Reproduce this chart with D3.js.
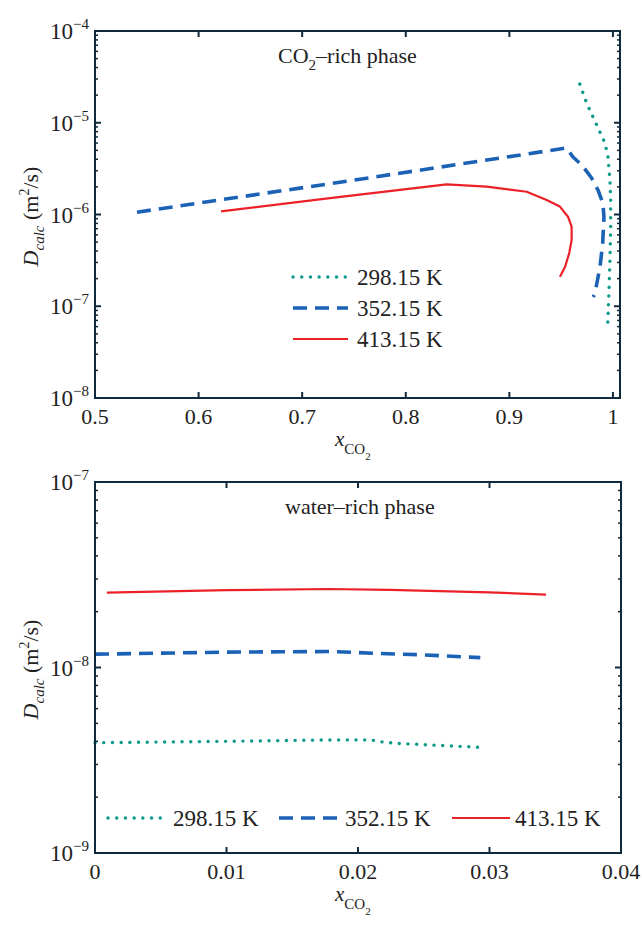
<!DOCTYPE html>
<meta charset="utf-8">
<script src="https://d3js.org/d3.v7.min.js"></script>
<style>
  body { margin: 0; background: #fff; }
  text { font-family: 'Liberation Serif', 'Times New Roman', serif; fill: #222; }
</style>
<body>
<div id="chart"></div>
<script>

// legend labels
var temps = ["298.15 K", "352.15 K", "413.15 K"];

// CO2-rich phase (top panel)
var richX298 = [0.968, 0.9746, 0.9807, 0.9875, 0.9923, 0.9952, 0.9971, 0.9978, 0.9978, 0.9971, 0.9961, 0.9949];
var richD298 = [2.64e-5, 1.64e-5, 1.16e-5, 7.9e-6, 6.0e-6, 4.23e-6, 2.38e-6, 1.44e-6, 7.3e-7, 3.19e-7, 1.39e-7, 6.25e-8];

var richX352 = [0.5405, 0.75, 0.9553, 0.9614, 0.9698, 0.9794, 0.9855, 0.9903, 0.9913, 0.9901, 0.9875, 0.9826, 0.981];
var richD352 = [1.06e-6, 2.37e-6, 5.31e-6, 4.23e-6, 3.47e-6, 2.50e-6, 1.85e-6, 1.33e-6, 9.4e-7, 4.89e-7, 2.68e-7, 1.39e-7, 1.26e-7];

var richX413 = [0.6216, 0.7268, 0.8395, 0.8781, 0.9167, 0.936, 0.9488, 0.9566, 0.9601, 0.9601, 0.9578, 0.9537, 0.9488];
var richD413 = [1.08e-6, 1.51e-6, 2.13e-6, 2.01e-6, 1.77e-6, 1.44e-6, 1.22e-6, 9.46e-7, 7.36e-7, 5.27e-7, 3.80e-7, 2.68e-7, 2.10e-7];

// water-rich phase (bottom panel)
var waterX298 = [0, 0.01, 0.0179, 0.021, 0.0217, 0.0229, 0.0257, 0.0297];
var waterD298 = [3.93e-9, 4.0e-9, 4.07e-9, 4.07e-9, 3.98e-9, 3.90e-9, 3.82e-9, 3.70e-9];

var waterX352 = [0, 0.01, 0.0179, 0.0217, 0.0249, 0.0293];
var waterD352 = [1.18e-8, 1.21e-8, 1.22e-8, 1.19e-8, 1.17e-8, 1.13e-8];

var waterX413 = [0.0009, 0.01, 0.0177, 0.0224, 0.03, 0.0343];
var waterD413 = [2.53e-8, 2.61e-8, 2.65e-8, 2.62e-8, 2.54e-8, 2.47e-8];

var topXTicks = [0.5, 0.6, 0.7, 0.8, 0.9, 1];
var topXLabels = ["0.5", "0.6", "0.7", "0.8", "0.9", "1"];
var botXTicks = [0, 0.01, 0.02, 0.03, 0.04];
var botXLabels = ["0", "0.01", "0.02", "0.03", "0.04"];

var styles = [
  {color: "#0f9a8c", width: 3.4, dash: "0.1 8.6", cap: "round"},
  {color: "#1b62b6", width: 3.6, dash: "14 8", cap: "butt"},
  {color: "#ec2028", width: 2.2, dash: null, cap: "butt"}
];

var axisColor = "#0e2a3c";

var svg = d3.select("#chart").append("svg")
  .attr("width", 642)
  .attr("height", 926);

function zip(xs, ys) {
  return xs.map(function(d, i) { return {x: d, y: ys[i]}; });
}

function drawPanel(p) {
  var x = d3.scaleLinear().domain(p.xDomain).range([p.left, p.right]);
  var y = d3.scaleLog().domain(p.yDomain).range([p.bottom, p.top]);

  var g = svg.append("g");

  // series
  p.series.forEach(function(s, i) {
    var st = styles[i];
    g.append("path")
      .datum(s)
      .attr("d", d3.line().x(function(d) { return x(d.x); }).y(function(d) { return y(d.y); }))
      .attr("fill", "none")
      .attr("stroke", st.color)
      .attr("stroke-width", st.width)
      .attr("stroke-dasharray", st.dash)
      .attr("stroke-linecap", st.cap)
      .attr("stroke-linejoin", "round");
  });

  // frame
  g.append("rect")
    .attr("x", p.left).attr("y", p.top)
    .attr("width", p.right - p.left).attr("height", p.bottom - p.top)
    .attr("fill", "none").attr("stroke", axisColor).attr("stroke-width", 2);

  // x ticks inward, top and bottom
  p.xTicks.forEach(function(t, i) {
    g.append("line").attr("x1", x(t)).attr("x2", x(t)).attr("y1", p.bottom).attr("y2", p.bottom - 6)
      .attr("stroke", axisColor).attr("stroke-width", 2);
    g.append("line").attr("x1", x(t)).attr("x2", x(t)).attr("y1", p.top).attr("y2", p.top + 6)
      .attr("stroke", axisColor).attr("stroke-width", 2);
    g.append("text")
      .attr("x", x(t)).attr("y", p.bottom + 26)
      .attr("text-anchor", "middle")
      .style("font-size", "22px")
      .text(p.xLabels[i]);
  });

  // y ticks (log, with minors), left and right
  y.ticks().forEach(function(t) {
    var e = Math.log10(t);
    var major = Math.abs(e - Math.round(e)) < 1e-6;
    var len = major ? 6 : 3;
    [[p.left, len], [p.right, -len]].forEach(function(a) {
      g.append("line").attr("x1", a[0]).attr("x2", a[0] + a[1]).attr("y1", y(t)).attr("y2", y(t))
        .attr("stroke", axisColor).attr("stroke-width", major ? 2 : 1.5);
    });
    if (major) {
      var tx = g.append("text")
        .attr("x", p.left - 6).attr("y", y(t) + 8)
        .attr("text-anchor", "end")
        .style("font-size", "23px");
      tx.append("tspan").text("10");
      tx.append("tspan").attr("dy", -10).style("font-size", "15px").text("\u2212" + Math.abs(Math.round(e)));
    }
  });

  // panel title
  var ti = g.append("text").attr("x", p.titleX).attr("y", p.top + 32).style("font-size", "22px");
  p.title.forEach(function(part) {
    ti.append("tspan").attr("dy", part.dy || 0).style("font-size", part.size || "22px").text(part.t);
  });

  // legend
  p.legend.forEach(function(l, i) {
    var st = styles[i];
    g.append("line")
      .attr("x1", l.x1).attr("x2", l.x2).attr("y1", l.y).attr("y2", l.y)
      .attr("stroke", st.color).attr("stroke-width", st.width)
      .attr("stroke-dasharray", st.dash).attr("stroke-linecap", st.cap);
    g.append("text").attr("x", l.tx).attr("y", l.y + 8).style("font-size", "23px").text(temps[i]);
  });

  // x label
  var xl = g.append("text").attr("x", 335).attr("y", p.bottom + 48).style("font-size", "21px");
  xl.append("tspan").style("font-style", "italic").text("x");
  xl.append("tspan").attr("dy", 8).style("font-size", "15px").text("CO");
  xl.append("tspan").attr("dy", 6).style("font-size", "11px").text("2");

  // y label
  var yc = (p.top + p.bottom) / 2 + 2;
  var yl = g.append("text")
    .attr("transform", "translate(38," + yc + ") rotate(-90)")
    .attr("text-anchor", "middle")
    .style("font-size", "22px");
  yl.append("tspan").style("font-style", "italic").text("D");
  yl.append("tspan").attr("dy", 6).style("font-style", "italic").style("font-size", "15px").text("calc");
  yl.append("tspan").attr("dy", -6).text(" (m");
  yl.append("tspan").attr("dy", -9).style("font-size", "14px").text("2");
  yl.append("tspan").attr("dy", 9).text("/s)");
}

drawPanel({
  left: 95, right: 620, top: 31, bottom: 398,
  xDomain: [0.5, 1.0068], yDomain: [1e-8, 1e-4],
  xTicks: topXTicks, xLabels: topXLabels,
  series: [zip(richX298, richD298), zip(richX352, richD352), zip(richX413, richD413)],
  titleX: 278,
  title: [{t: "CO"}, {t: "2", dy: 7, size: "15px"}, {t: "\u2013rich phase", dy: -7}],
  legend: [
    {x1: 293, x2: 348, y: 277, tx: 357},
    {x1: 293, x2: 348, y: 308, tx: 357},
    {x1: 293, x2: 348, y: 339, tx: 357}
  ]
});

drawPanel({
  left: 95, right: 621, top: 482, bottom: 853,
  xDomain: [0, 0.04], yDomain: [1e-9, 1e-7],
  xTicks: botXTicks, xLabels: botXLabels,
  series: [zip(waterX298, waterD298), zip(waterX352, waterD352), zip(waterX413, waterD413)],
  titleX: 285,
  title: [{t: "water\u2013rich phase"}],
  legend: [
    {x1: 108, x2: 163, y: 818, tx: 173},
    {x1: 279, x2: 340, y: 818, tx: 345},
    {x1: 452, x2: 510, y: 818, tx: 515}
  ]
});

</script>
</body>
